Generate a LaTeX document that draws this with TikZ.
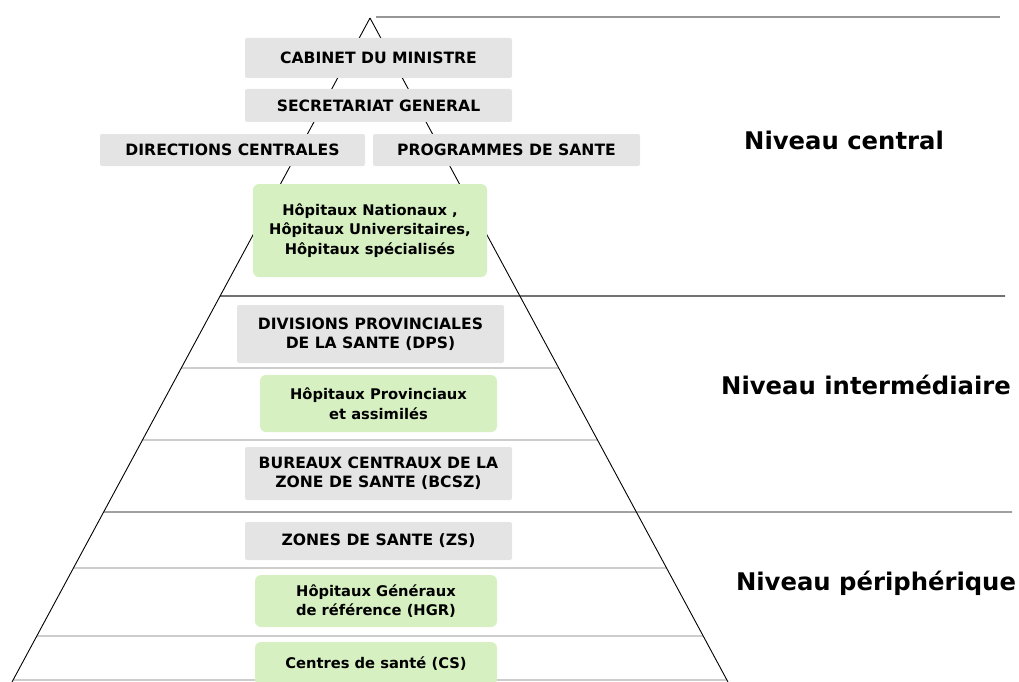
\documentclass[tikz,border=0pt]{standalone}
\usepackage{fontspec}
\setmainfont{DejaVu Sans}
\definecolor{boxgray}{RGB}{228,228,228}
\definecolor{boxgreen}{RGB}{214,240,194}
\definecolor{thinline}{RGB}{205,205,205}
\definecolor{midline}{RGB}{110,110,110}
\definecolor{topline}{RGB}{150,150,150}
\newcommand{\capsfont}{\bfseries\fontsize{15.6}{19}\selectfont}
\newcommand{\lowfont}{\bfseries\fontsize{14.7}{19.5}\selectfont}
\newcommand{\levelfont}{\bfseries\fontsize{24.3}{28}\selectfont}
\begin{document}
\begin{tikzpicture}[x=1pt,y=-1pt,
  graybox/.style={fill=boxgray, rounded corners=2pt, inner sep=0pt, font=\capsfont, align=center},
  greenbox/.style={fill=boxgreen, rounded corners=6pt, inner sep=0pt, font=\lowfont, align=center},
  levellabel/.style={font=\levelfont, inner sep=0pt},
  side/.style={draw=black, line width=0.9pt},
  darksep/.style={draw=black!85, line width=1.3pt},
  midsep/.style={draw=midline, line width=1.3pt},
  thinsep/.style={draw=thinline, line width=1.1pt},
  topsep/.style={draw=topline, line width=2pt}]
\useasboundingbox (0,0) rectangle (1019,682);

% pyramid geometry
\coordinate (apex) at (370,18);
\coordinate (bl) at (12,682);
\coordinate (br) at (728,682);
\coordinate (topend) at (1000,17);
\coordinate (topstart) at (376,17);

% separators
\coordinate (c296) at (1005,296);
\coordinate (c512) at (1012,512);
\coordinate (l296) at (intersection of apex--bl and 0,296--1,296);
\coordinate (l512) at (intersection of apex--bl and 0,512--1,512);
\draw[topsep] (topstart) -- (topend);
\draw[darksep] (l296) -- (c296);
\draw[midsep] (l512) -- (c512);
\foreach \yy in {368,440,568,636,680} {
  \draw[thinsep] (intersection of apex--bl and 0,\yy--1,\yy) -- (intersection of apex--br and 0,\yy--1,\yy);
}

% pyramid sides
\draw[side] (apex) -- (bl);
\draw[side] (apex) -- (br);

% boxes
\node[graybox, minimum width=267pt, minimum height=40pt] (cab) at (378.5,58) {CABINET DU MINISTRE};
\node[graybox, minimum width=267pt, minimum height=33pt] (sg) at (378.5,105.5) {SECRETARIAT GENERAL};
\node[graybox, minimum width=265pt, minimum height=32pt] (dc) at (232.5,150) {DIRECTIONS CENTRALES};
\node[graybox, minimum width=267pt, minimum height=32pt] (ps) at (506.5,150) {PROGRAMMES DE SANTE};
\node[greenbox, minimum width=234pt, minimum height=93pt] (hn) at (370,230.5) {Hôpitaux Nationaux ,\\Hôpitaux Universitaires,\\Hôpitaux spécialisés};
\node[graybox, minimum width=267pt, minimum height=58pt] (dps) at (370.5,334) {DIVISIONS PROVINCIALES\\DE LA SANTE (DPS)};
\node[greenbox, minimum width=237pt, minimum height=57pt] (hp) at (378.5,403.5) {Hôpitaux Provinciaux\\et assimilés};
\node[graybox, minimum width=267pt, minimum height=53pt] (bcsz) at (378.5,473.5) {BUREAUX CENTRAUX DE LA\\ZONE DE SANTE (BCSZ)};
\node[graybox, minimum width=267pt, minimum height=38pt] (zs) at (378.5,541) {ZONES DE SANTE (ZS)};
\node[greenbox, minimum width=242pt, minimum height=52pt] (hgr) at (376,601) {Hôpitaux Généraux\\de référence (HGR)};
\node[greenbox, minimum width=242pt, minimum height=44pt] (cs) at (376,664) {Centres de santé (CS)};

% level labels
\node[levellabel] (nc) at (844,140) {Niveau central};
\node[levellabel] (ni) at (866,385) {Niveau intermédiaire};
\node[levellabel] (np) at (876,583) {Niveau périphérique};
\end{tikzpicture}
\end{document}
